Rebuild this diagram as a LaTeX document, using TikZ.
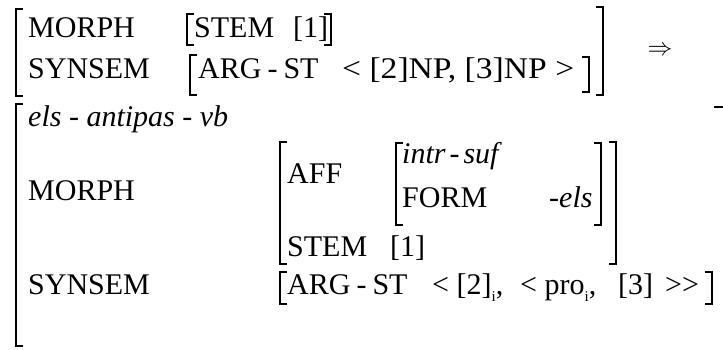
\documentclass[tikz,border=0pt]{standalone}
\usepackage{fontspec}
\setmainfont{Liberation Serif}[Ligatures=NoCommon]
\newfontfamily\widefont{Liberation Serif}[FakeStretch=1.12,Ligatures=NoCommon]
\newcommand{\sbi}{\raisebox{-0.25em}{\fontsize{15}{15}\selectfont i}}
\newcommand{\lbrk}[3]{\draw[brk] (#1+7,#2) -- (#1,#2) -- (#1,#3) -- (#1+7,#3);}
\newcommand{\rbrk}[3]{\draw[brk] (#1-7,#2) -- (#1,#2) -- (#1,#3) -- (#1-7,#3);}
\newcommand{\hy}{\kern6pt-\kern6pt}
\begin{document}
\begin{tikzpicture}[x=1pt,y=-1pt,
  txt/.style={anchor=base west,inner sep=0pt,font=\fontsize{30}{30}\selectfont},
  brk/.style={line width=1.8pt}]
\useasboundingbox (0,0) rectangle (723,349);
% upper AVM
\lbrk{16}{9}{96}
\rbrk{603}{7}{95}
\node[txt] (m1) at (28,37) {MORPH};
\lbrk{187}{14}{45}
\node[txt] (st1) at (194,37) {STEM};
\node[txt] (i1) at (293,37) {[1]};
\rbrk{331}{14}{45}
\node[txt] (s1) at (28,78) {SYNSEM};
\lbrk{190}{55}{95}
\node[txt] (a1) at (198,78) {ARG\hy ST};
\node[txt] (l1) at (342,78) {\widefont < [2]NP, [3]NP {>}};
\rbrk{589}{57}{92}
\node[font=\fontsize{32}{32}\selectfont] (arr) at (660,51) {$\Rightarrow$};
% lower AVM
\lbrk{16}{104}{346}
\draw[brk] (714,107) -- (723,107);
\node[txt] (typ) at (28,126) {\itshape els - antipas - vb};
\node[txt] (m2) at (28,200) {MORPH};
\lbrk{280}{142}{264}
\rbrk{616}{142}{264}
\node[txt] (aff) at (287,183) {AFF};
\lbrk{396}{143}{225}
\rbrk{601}{143}{225}
\node[txt] (isuf) at (402,163) {\itshape intr\kern4pt-\kern4pt suf};
\node[txt] (form) at (402,207) {FORM};
\node[txt] (els) at (549,207) {\itshape -els};
\node[txt] (st2) at (287,256) {STEM};
\node[txt] (i2) at (390,256) {[1]};
\node[txt] (s2) at (28,294) {SYNSEM};
\lbrk{280}{272}{304}
\node[txt] (a2) at (287,294) {ARG\hy ST};
\node[txt] (l2a) at (432,294) {< [2]\sbi,};
\node[txt] (l2b) at (520,294) {< pro\sbi,};
\node[txt] (l2e) at (618,294) {[3]};
\node[txt] (l2f) at (665,294) {{>}{>}};
\rbrk{712}{272}{304}
\end{tikzpicture}
\end{document}
